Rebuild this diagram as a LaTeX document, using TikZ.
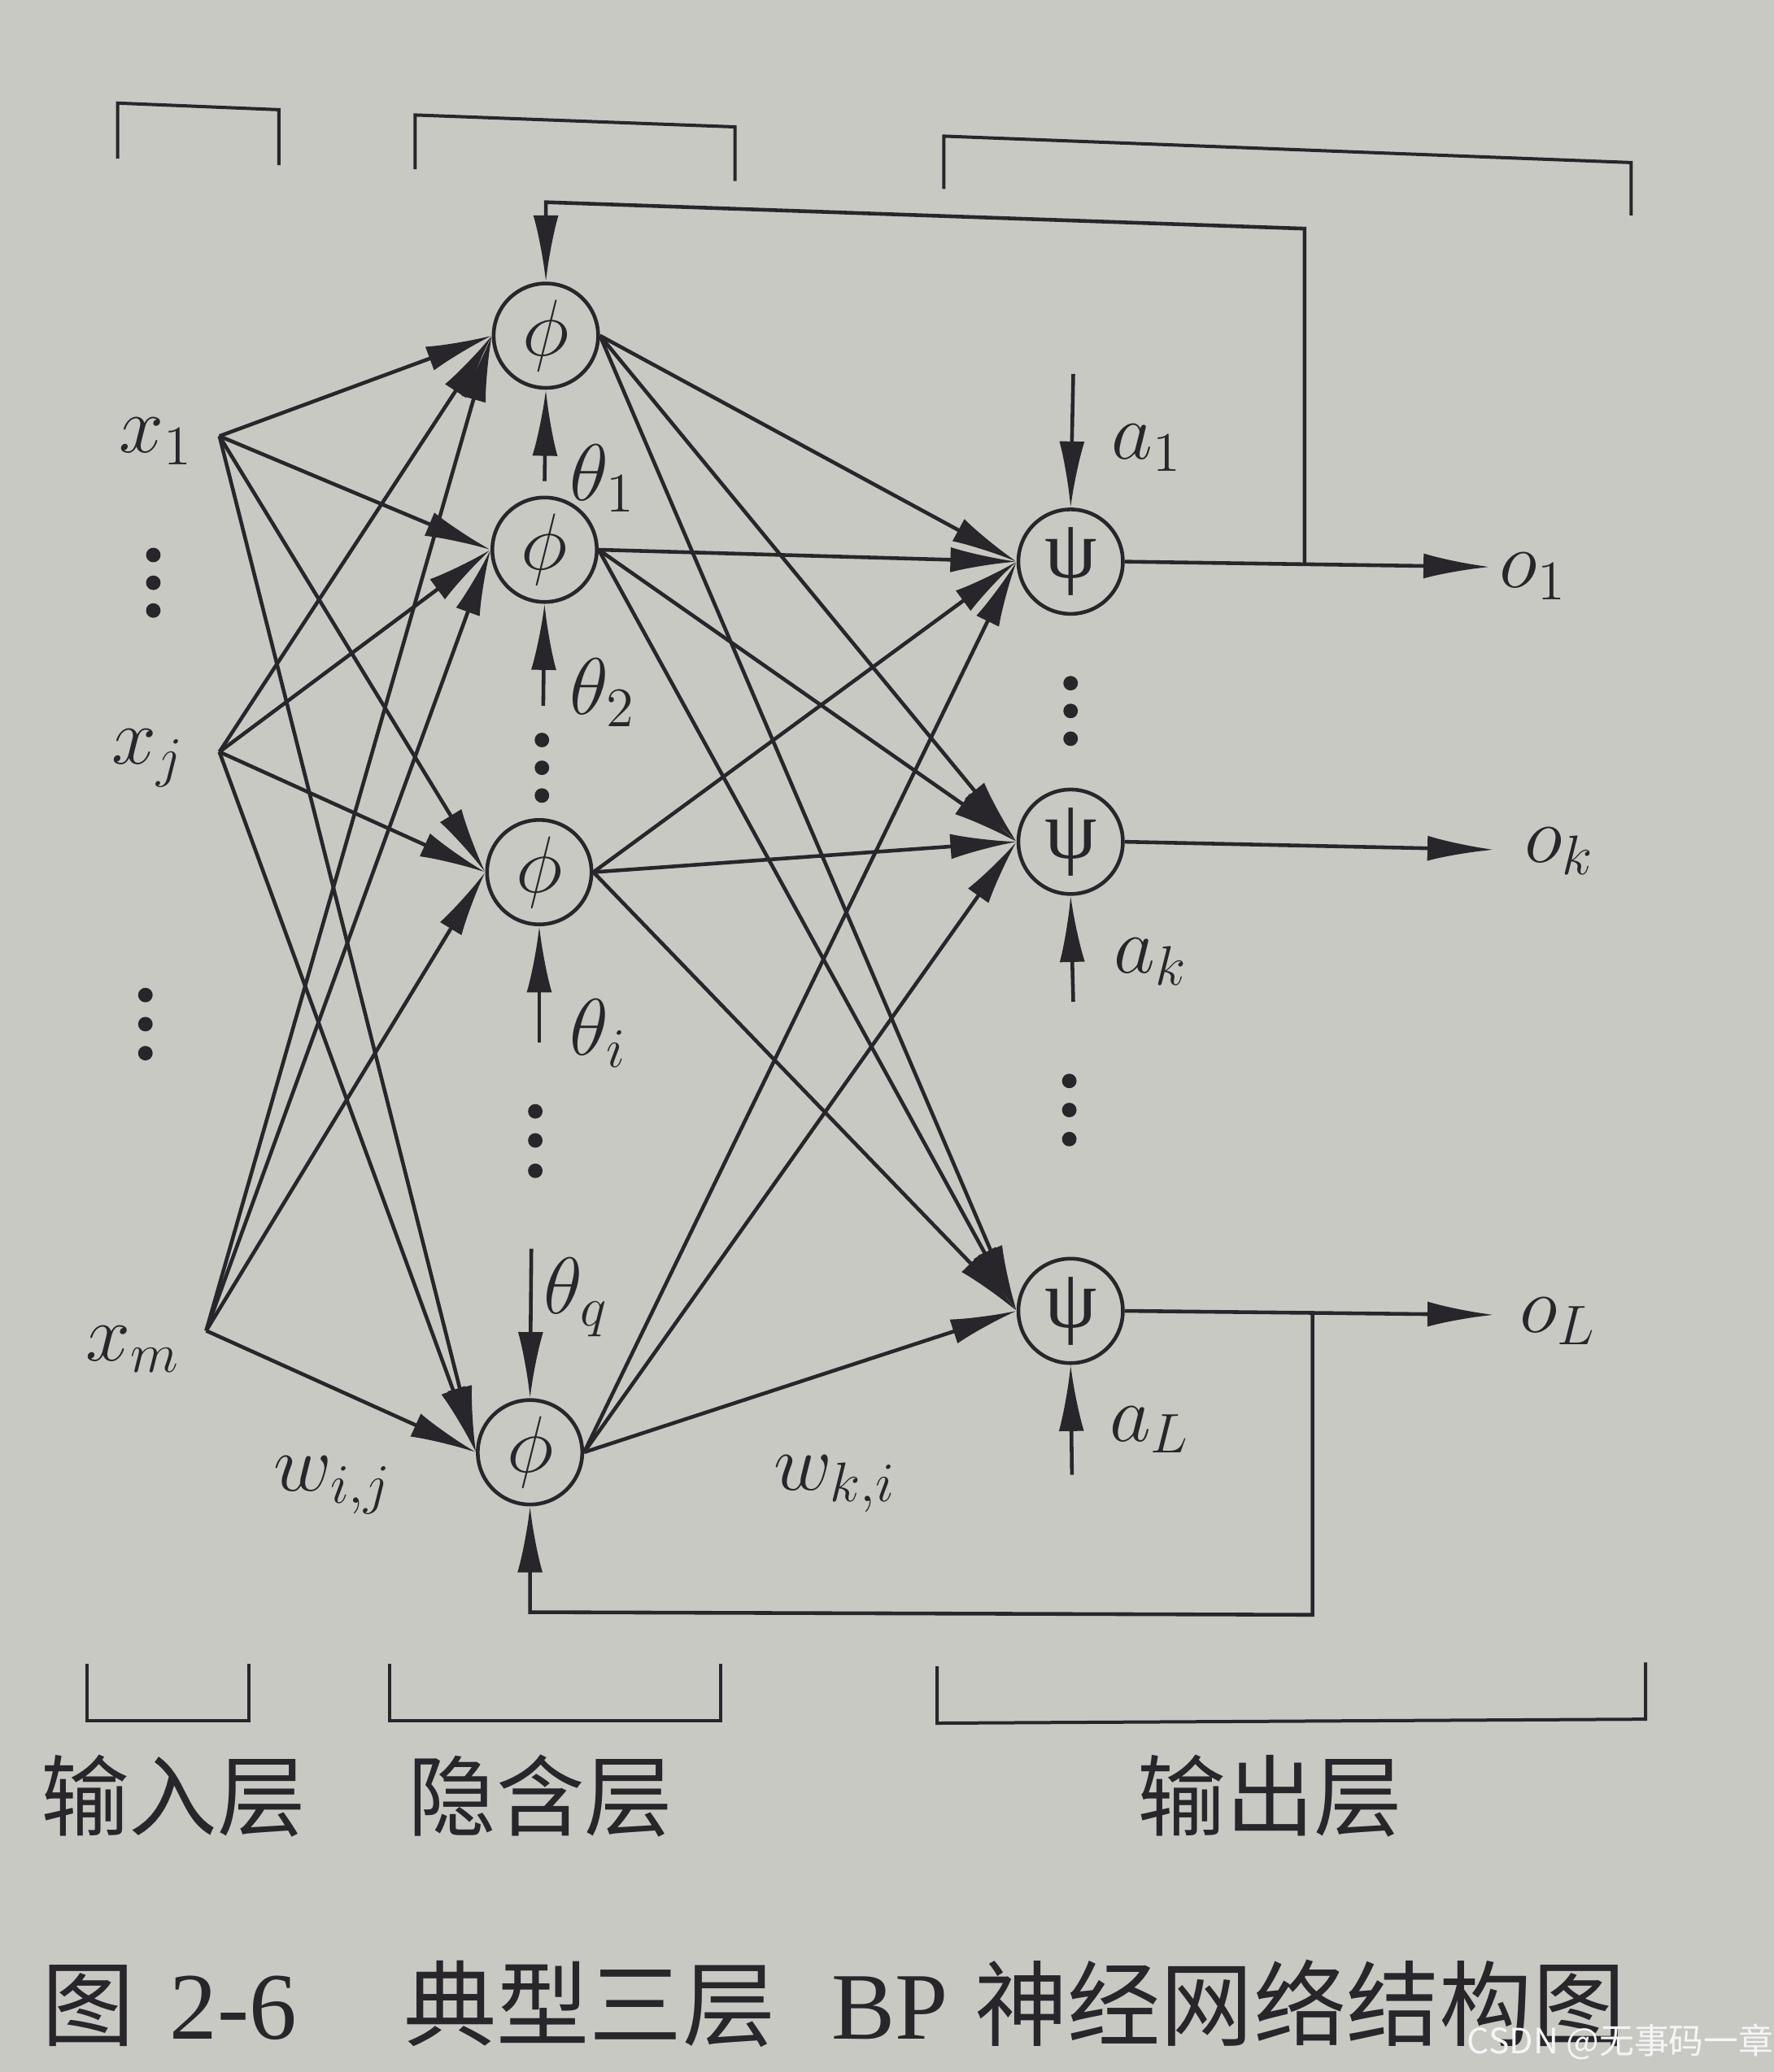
\documentclass[tikz,border=0pt]{standalone}
\usepackage{fontspec}
\newfontfamily\cjk{Noto Sans CJK SC}
\newfontfamily\tms{Liberation Serif}
\usetikzlibrary{arrows.meta}
\definecolor{paper}{RGB}{201,201,196}
\definecolor{ink}{RGB}{40,38,42}
\begin{document}
\begin{tikzpicture}[x=0.01cm, y=-0.01cm, ink, line width=0.8pt,
    neuron/.style={circle, draw=ink, line width=0.8pt, minimum size=0.79cm,
      inner sep=0pt, font=\fontsize{18}{20}\selectfont},
    wire/.style={-{Latex[length=0.5cm,width=0.19cm]}},
    lbl/.style={inner sep=0pt, font=\fontsize{18}{20}\selectfont},
    layer/.style={inner sep=0pt, font=\cjk\fontsize{19}{21}\selectfont},
    capt/.style={inner sep=0pt, anchor=base west, font=\fontsize{20}{22}\selectfont}]
      \fill[paper] (0,0) rectangle (1342,1568); % page
      \useasboundingbox (0,0) rectangle (1342,1568);
      %
      \node[neuron] (h1) at (413,254) {$\phi$};   % hidden layer
      \node[neuron] (h2) at (412,416) {$\phi$};
      \node[neuron] (hi) at (408,660) {$\phi$};
      \node[neuron] (hq) at (401,1099) {$\phi$};
      %
      \node[neuron] (o1) at (810,425) {\tms ψ};   % output layer
      \node[neuron] (ok) at (810,637) {\tms ψ};
      \node[neuron] (oL) at (810,992) {\tms ψ};
      %
      \coordinate (x1) at (166,330);              % inputs
      \coordinate (xj) at (166,569);
      \coordinate (xm) at (156,1007);
      \node[lbl] (x1l) at (118,334) {$x_1$};
      \node[lbl] (xjl) at (112,574) {$x_j$};
      \node[lbl] (xml) at (101,1021) {$x_m$};
      %
      \foreach \s in {x1,xj,xm}                   % weights w_{i,j}
        \foreach \t in {h1,h2,hi,hq}
          \draw[wire] (\s) -- (\t.west);
      \foreach \s in {h1,h2,hi,hq}                % weights w_{k,i}
        \foreach \t in {o1,ok,oL}
          \draw[wire] (\s.east) -- (\t.west);
      \node[lbl] (wij) at (252,1124) {$w_{i,j}$};
      \node[lbl] (wki) at (632,1123) {$w_{k,i}$};
      %
      \coordinate (t1) at (412,364);              % thresholds
      \coordinate (t2) at (411,534);
      \coordinate (ti) at (408,789);
      \coordinate (tq) at (402,945);
      \draw[wire] (t1) -- (h1.south);
      \draw[wire] (t2) -- (h2.south);
      \draw[wire] (ti) -- (hi.south);
      \draw[wire] (tq) -- (hq.north);
      \node[lbl] (t1l) at (456,362) {$\theta_1$};
      \node[lbl] (t2l) at (456,524) {$\theta_2$};
      \node[lbl] (til) at (453,782) {$\theta_i$};
      \node[lbl] (tql) at (436,982) {$\theta_q$};
      %
      \coordinate (a1) at (812,283);              % output thresholds
      \coordinate (ak) at (812,758);
      \coordinate (aL) at (811,1116);
      \draw[wire] (a1) -- (o1.north);
      \draw[wire] (ak) -- (ok.south);
      \draw[wire] (aL) -- (oL.south);
      \node[lbl] (a1l) at (868,339) {$a_1$};
      \node[lbl] (akl) at (871,728) {$a_k$};
      \node[lbl] (aLl) at (870,1082) {$a_L$};
      %
      \coordinate (y1) at (1127,429);             % outputs
      \coordinate (yk) at (1130,643);
      \coordinate (yL) at (1130,995);
      \draw[wire] (o1.east) -- (y1);
      \draw[wire] (ok.east) -- (yk);
      \draw[wire] (oL.east) -- (yL);
      \node[lbl] (y1l) at (1160,436) {$o_1$};
      \node[lbl] (ykl) at (1180,644) {$o_k$};
      \node[lbl] (yLl) at (1179,1000) {$o_L$};
      %
      \coordinate (j1) at (987,427);              % feedback, top
      \coordinate (ftr) at (987,173);
      \coordinate (ftl) at (413,153);
      \draw[wire] (j1) -- (ftr) -- (ftl) -- (h1.north);
      \coordinate (jL) at (993,994);              % feedback, bottom
      \coordinate (fbr) at (993,1222);
      \coordinate (fbl) at (401,1220);
      \draw[wire] (jL) -- (fbr) -- (fbl) -- (hq.south);
      %
      \foreach \y in {420,441,462} \fill (116,\y) circle[radius=0.055cm]; % dots
      \foreach \y in {753,775,797} \fill (110,\y) circle[radius=0.055cm];
      \foreach \y in {560,581,602} \fill (410,\y) circle[radius=0.055cm];
      \foreach \y in {841,863,886} \fill (405,\y) circle[radius=0.055cm];
      \foreach \y in {517,538,559} \fill (810,\y) circle[radius=0.055cm];
      \foreach \y in {818,840,862} \fill (809,\y) circle[radius=0.055cm];
      %
      \draw[line width=0.7pt] (89,120) -- (89,78) -- (211,83) -- (211,125);       % top brackets
      \draw[line width=0.7pt] (314,128) -- (314,87) -- (556,96) -- (556,137);
      \draw[line width=0.7pt] (714,143) -- (714,103) -- (1234,123) -- (1234,163);
      \draw[line width=0.7pt] (66,1259) -- (66,1302) -- (188,1302) -- (188,1259);  % bottom brackets
      \draw[line width=0.7pt] (295,1259) -- (295,1302) -- (545,1302) -- (545,1259);
      \draw[line width=0.7pt] (709,1261) -- (709,1304) -- (1245,1301) -- (1245,1258);
      %
      \node[layer] (inl) at (131,1359) {输入层};
      \node[layer] (hidl) at (409,1359) {隐含层};
      \node[layer] (outl) at (961,1359) {输出层};
      %
      \node[capt, font=\cjk\fontsize{20}{22}\selectfont] (c1) at (30,1543) {图}; % caption
      \node[capt, font=\tms\fontsize{20.5}{22}\selectfont] (c2) at (127,1543) {2-6};
      \node[capt, font=\cjk\fontsize{20}{22}\selectfont] (c3) at (304,1543) {典型三层};
      \node[capt, font=\tms\fontsize{20.5}{22}\selectfont] (c4) at (628,1543) {BP};
      \node[capt, font=\cjk\fontsize{20}{22}\selectfont] (c5) at (736,1543) {神经网络结构图};
      \node[inner sep=0pt, text=white!92!gray, font=\cjk\fontsize{7.5}{9}\selectfont] (wm) at (1226,1545) {CSDN @无事码一章};
    \end{tikzpicture}
\end{document}
